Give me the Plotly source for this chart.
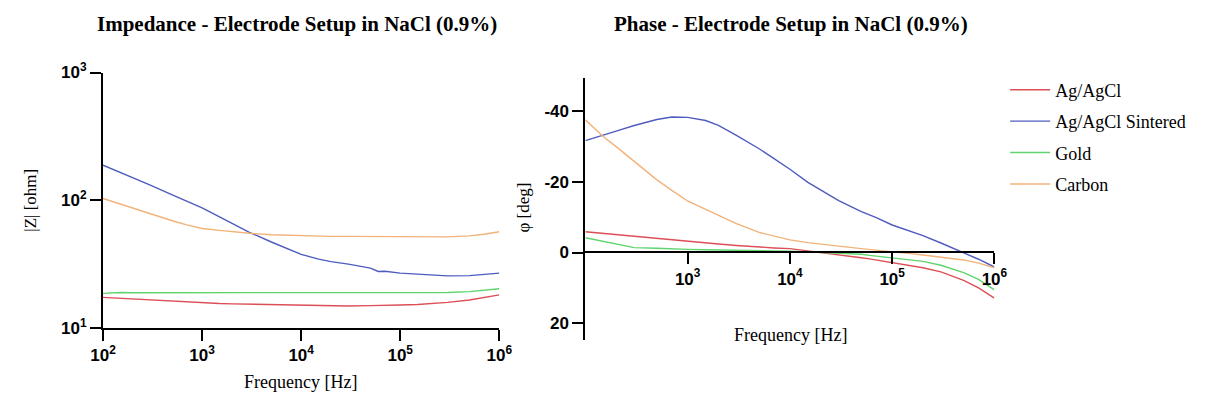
import plotly.graph_objects as go

W, H = 1207, 403

freq = [100, 150, 200, 300, 500, 700, 1000, 1500, 2000, 3000, 5000, 7000,
        10000, 15000, 20000, 30000, 50000, 60000, 70000, 100000, 150000,
        200000, 300000, 500000, 700000, 1000000]

series_names = ["Ag/AgCl", "Ag/AgCl Sintered", "Gold", "Carbon"]
series_colors = ["#dc4f57", "#4e5cbf", "#5fd46e", "#f2b27a"]

# Impedance |Z| [ohm]
z_agagcl = [17.3, 17.0, 16.8, 16.4, 16.1, 15.9, 15.7, 15.5, 15.4, 15.3, 15.2, 15.1,
            15.0, 14.9, 14.8, 14.8, 14.9, 14.9, 15.0, 15.1, 15.2, 15.4, 15.8, 16.5,
            17.2, 18.1]
z_sintered = [188, 165, 150, 131, 110, 98, 87, 74, 66, 56, 47, 42,
              37.6, 34.5, 33.0, 31.5, 29.3, 27.6, 27.7, 26.8, 26.2,
              25.8, 25.5, 25.6, 26.1, 26.8]
z_gold = [18.6, 18.9, 18.8, 18.8, 18.8, 18.7, 18.7, 18.7, 18.7, 18.7, 18.7, 18.7,
          18.7, 18.7, 18.7, 18.7, 18.7, 18.7, 18.7, 18.7, 18.8, 18.8, 18.9, 19.2,
          19.6, 20.2]
z_carbon = [103, 93, 86, 78, 69, 64, 60, 58, 56.5, 55, 53.5, 53,
            52.5, 52.2, 52, 52, 51.8, 51.7, 51.6, 51.5, 51.5, 51.5, 51.5, 52.5,
            54, 56.5]

# Phase [deg]
p_agagcl = [-5.9, -5.4, -5.1, -4.6, -4.0, -3.6, -3.2, -2.7, -2.4, -2.0, -1.5, -1.3,
            -1.1, -0.5, 0.1, 0.7, 1.5, 1.8, 2.1, 2.8, 3.6, 4.3, 5.5, 7.9, 10.0, 12.9]
p_sintered = [-31.7, -33.2, -34.4, -36.0, -37.7, -38.4, -38.3, -37.4, -36.0, -33.2,
              -29.4, -26.6, -23.6, -19.9, -17.7, -14.7, -11.6, -10.7, -9.9, -7.8,
              -6.0, -4.8, -2.7, 0.0, 1.9, 4.1]
p_gold = [-4.2, -3.2, -2.6, -1.4, -1.2, -1.0, -0.9, -0.8, -0.7, -0.6, -0.5, -0.45,
          -0.4, -0.2, -0.1, 0.2, 0.5, 0.8, 1.0, 1.6, 2.1, 2.5, 3.6, 5.7, 7.6, 10.6]
p_carbon = [-37.6, -32.8, -30.0, -25.8, -20.6, -17.6, -14.6, -12.2, -10.6, -8.2,
            -5.7, -4.6, -3.6, -2.8, -2.3, -1.8, -1.1, -0.9, -0.7, -0.2, 0.3, 0.7,
            1.3, 2.1, 3.0, 4.3]

z_series = [z_agagcl, z_sintered, z_gold, z_carbon]
p_series = [p_agagcl, p_sintered, p_gold, p_carbon]

x_tickvals = [1e2, 1e3, 1e4, 1e5, 1e6]
x_ticktext = ["10<sup>2</sup>", "10<sup>3</sup>", "10<sup>4</sup>", "10<sup>5</sup>", "10<sup>6</sup>"]
z_tickvals = [10, 100, 1000]
z_ticktext = ["10<sup>1</sup>", "10<sup>2</sup>", "10<sup>3</sup>"]
p_tickvals = [-40, -20, 0, 20]
p_ticktext = ["-40", "-20", "0", "20"]

title_left = "Impedance - Electrode Setup in NaCl (0.9%)"
title_right = "Phase - Electrode Setup in NaCl (0.9%)"
xlabel = "Frequency [Hz]"
ylabel_left = "|Z| [ohm]"
ylabel_right = "φ [deg]"

SERIF = "Liberation Serif, Times New Roman, serif"
SANS = "Liberation Sans, Arial, sans-serif"

def px(x):
    return x / W

def py(y):
    return (H - y) / H

fig = go.Figure()

for i, name in enumerate(series_names):
    fig.add_trace(go.Scatter(x=freq, y=z_series[i], mode="lines", name=name,
                             line=dict(color=series_colors[i], width=1.4),
                             xaxis="x", yaxis="y", showlegend=False))
for i, name in enumerate(series_names):
    fig.add_trace(go.Scatter(x=freq, y=p_series[i], mode="lines", name=name,
                             legendgroup=name,
                             line=dict(color=series_colors[i], width=1.4),
                             xaxis="x2", yaxis="y2", showlegend=True))

axis_common = dict(showgrid=False, zeroline=False, showline=True, linecolor="black",
                   linewidth=2, ticks="outside", ticklen=11, tickwidth=2,
                   tickcolor="black",
                   tickfont=dict(family=SANS, size=17, color="black", weight="bold"))

fig.update_layout(
    width=W, height=H,
    margin=dict(l=0, r=0, t=0, b=0),
    paper_bgcolor="white", plot_bgcolor="white",
    xaxis=dict(type="log", range=[2, 6], domain=[px(92), px(497)], anchor="y",
               tickvals=x_tickvals, ticktext=x_ticktext, **axis_common),
    yaxis=dict(type="log", range=[1, 3], domain=[py(334), py(64)], anchor="x",
               tickvals=z_tickvals, ticktext=z_ticktext, **axis_common),
    xaxis2=dict(type="log", range=[2, 6], domain=[px(585), px(1003)], anchor="free",
                position=py(254), tickvals=x_tickvals[1:], ticktext=x_ticktext[1:],
                **axis_common),
    yaxis2=dict(range=[24.8, -49.4], domain=[py(347), py(70)], anchor="x2",
                tickvals=p_tickvals, ticktext=p_ticktext, **axis_common),
    legend=dict(x=px(1014), y=py(63), xanchor="left", yanchor="top",
                font=dict(family=SERIF, size=18, color="black"),
                itemwidth=40, tracegroupgap=5, bgcolor="rgba(0,0,0,0)"),
    showlegend=True,
)

annos = [
    dict(text="<b>" + title_left + "</b>", x=px(290), y=py(13), size=21),
    dict(text="<b>" + title_right + "</b>", x=px(795), y=py(13), size=21),
    dict(text=xlabel, x=px(294), y=py(391), size=18),
    dict(text=xlabel, x=px(795), y=py(342), size=18),
]
for a in annos:
    fig.add_annotation(text=a["text"], x=a["x"], y=a["y"], xref="paper", yref="paper",
                       xanchor="center", yanchor="middle", showarrow=False,
                       font=dict(family=SERIF, size=a["size"], color="black"))
fig.add_annotation(text=ylabel_left, x=px(18), y=py(199), xref="paper", yref="paper",
                   xanchor="center", yanchor="middle", showarrow=False, textangle=-90,
                   font=dict(family=SERIF, size=17, color="black"))
fig.add_annotation(text=ylabel_right, x=px(522), y=py(207), xref="paper", yref="paper",
                   xanchor="center", yanchor="middle", showarrow=False, textangle=-90,
                   font=dict(family=SERIF, size=17, color="black"))

fig.write_html("out.html")
